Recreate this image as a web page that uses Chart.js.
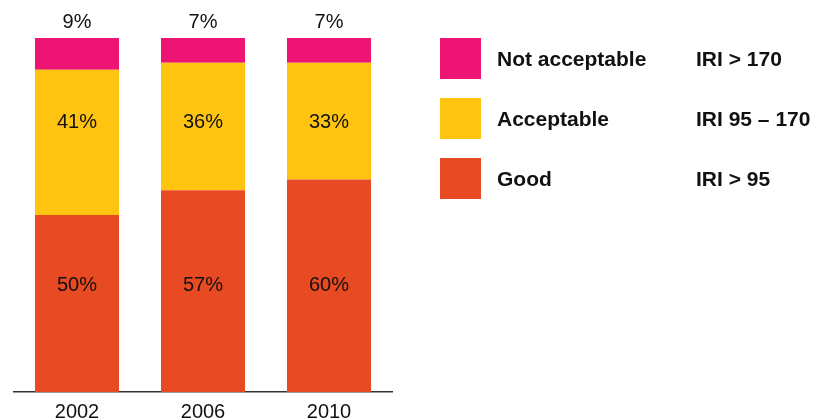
<!DOCTYPE html>
<html>
<head>
<meta charset="utf-8">
<script src="https://cdn.jsdelivr.net/npm/chart.js@4"></script>
<style>
  body { margin: 0; background: #fff; font-family: "Liberation Sans", Arial, sans-serif; }
  #wrap { position: relative; width: 825px; height: 420px; }
  #grafico { position: absolute; left: 0; top: 0; }
  .leyenda { position: absolute; left: 440px; height: 41px; display: flex; align-items: center; font-weight: bold; font-size: 21px; color: #111; }
  .leyenda .cuadro { width: 41px; height: 41px; margin-right: 16px; }
  .leyenda .nombre { width: 199px; }
</style>
</head>
<body>
<div id="wrap">
  <canvas id="grafico" width="825" height="420"></canvas>
  <div id="leyendas"></div>
</div>
<script>
// datos
const anios = ["2002", "2006", "2010"];
const bueno = [50, 57, 60];
const aceptable = [41, 36, 33];
const noAceptable = [9, 7, 7];
const nombres = ["Not acceptable", "Acceptable", "Good"];
const rangos = ["IRI > 170", "IRI 95 \u2013 170", "IRI > 95"];

const colorBueno = "#E84A24";
const colorAceptable = "#FEC410";
const colorNoAceptable = "#EE1473";

// leyenda en html
const coloresLeyenda = [colorNoAceptable, colorAceptable, colorBueno];
let contLeyendas = document.getElementById("leyendas");
for (let i = 0; i < nombres.length; i++) {
    let fila = document.createElement("div");
    fila.classList.add("leyenda");
    fila.style.top = (38 + i * 60) + "px";
    fila.innerHTML = `<div class="cuadro" style="background:${coloresLeyenda[i]}"></div><div class="nombre">${nombres[i]}</div><div>${rangos[i]}</div>`;
    contLeyendas.append(fila);
}

// etiquetas de porcentaje (las de dentro van a una altura fija, como en el original)
const alturaEtiqueta = [30, 76];
const etiquetas = {
    id: "etiquetas",
    afterDatasetsDraw(chart) {
        const ctx = chart.ctx;
        const escalaY = chart.scales.y;
        ctx.save();
        ctx.font = "20px 'Liberation Sans', Arial, sans-serif";
        ctx.fillStyle = "#111";
        ctx.textAlign = "center";
        ctx.textBaseline = "middle";
        chart.data.datasets.forEach((ds, d) => {
            chart.getDatasetMeta(d).data.forEach((bar, i) => {
                let texto = ds.data[i] + "%";
                if (d == 2) {
                    ctx.fillText(texto, bar.x, bar.y - 16);
                } else {
                    ctx.fillText(texto, bar.x, escalaY.getPixelForValue(alturaEtiqueta[d]));
                }
            });
        });
        ctx.restore();
    }
};

new Chart(document.getElementById("grafico"), {
    type: "bar",
    data: {
        labels: anios,
        datasets: [
            { label: "Good", data: bueno, backgroundColor: colorBueno },
            { label: "Acceptable", data: aceptable, backgroundColor: colorAceptable },
            { label: "Not acceptable", data: noAceptable, backgroundColor: colorNoAceptable }
        ]
    },
    options: {
        responsive: false,
        animation: false,
        layout: { padding: { top: 38, left: 14, right: 433, bottom: 0 } },
        datasets: { bar: { barPercentage: 0.667, categoryPercentage: 1 } },
        plugins: { legend: { display: false }, tooltip: { enabled: false } },
        scales: {
            x: {
                stacked: true,
                grid: { display: false },
                border: { display: true, color: "#333", width: 1.5 },
                ticks: { color: "#111", padding: 0, font: { size: 20, family: "'Liberation Sans', Arial, sans-serif" } },
                afterFit(escala) { escala.height = 28; }
            },
            y: { stacked: true, display: false, min: 0, max: 100 }
        }
    },
    plugins: [etiquetas]
});
</script>
</body>
</html>
